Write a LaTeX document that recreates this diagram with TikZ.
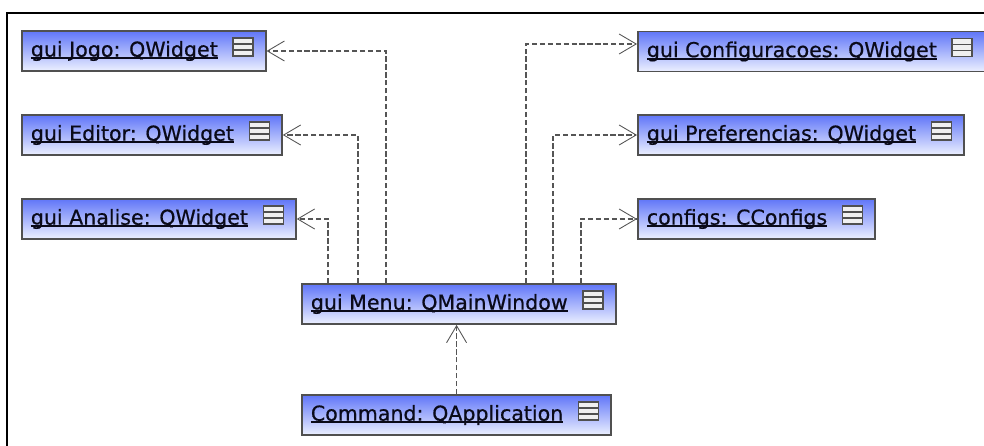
\documentclass[tikz,border=0pt]{standalone}
\usepackage{fontspec}
\newfontfamily\umlfont[FakeBold=0.6]{DejaVu Sans}
\usetikzlibrary{arrows.meta}

\definecolor{objtop}{RGB}{96,118,248}
\definecolor{objbot}{RGB}{236,240,255}
\definecolor{objline}{RGB}{80,80,80}
\definecolor{depline}{RGB}{85,85,85}
\definecolor{objtext}{RGB}{10,10,25}

% underline at a fixed depth, across the descenders
\newcommand{\ulab}[1]{\setbox0\hbox{#1}\rlap{\rule[-0.05cm]{\wd0}{0.035cm}}\box0}

\begin{document}
\begin{tikzpicture}[
	obj/.style={draw=objline, line width=1pt, top color=objtop, bottom color=objbot,
		minimum height=0.8cm, inner xsep=0.18cm, inner ysep=0pt, anchor=west,
		text=objtext, font=\umlfont\fontsize{11.7}{14}\selectfont},
	dep/.style={draw=depline, dash pattern=on 3pt off 1.5pt, line width=0.6pt,
		-{Straight Barb[length=0.34cm,width=0.4cm,line width=0.5pt]}},
	opicon/.pic={
		\draw[draw=objline, fill=gray!12, line width=0.9pt] (-0.2,-0.18) rectangle (0.2,0.18);
		\draw[objline, line width=0.9pt] (-0.2,-0.06) -- (0.2,-0.06) (-0.2,0.06) -- (0.2,0.06);
	}
]
	\useasboundingbox (0,0) rectangle (19.68,8.92);
	\draw [line width=0.04cm] (0.14,0) -- (0.14,8.66) -- (19.68,8.66);

	% left column
	\node [obj] (jogo) at (0.42,7.90) {\ulab{gui Jogo: QWidget}\hspace*{0.78cm}};
	\node [obj] (editor) at (0.42,6.22) {\ulab{gui Editor: QWidget}\hspace*{0.78cm}};
	\node [obj] (analise) at (0.42,4.54) {\ulab{gui Analise: QWidget}\hspace*{0.78cm}};
	% right column
	\node [obj] (config) at (12.74,7.89) {\ulab{gui Configuracoes: QWidget}\hspace*{0.78cm}};
	\node [obj] (pref) at (12.74,6.22) {\ulab{gui Preferencias: QWidget}\hspace*{0.78cm}};
	\node [obj] (configs) at (12.74,4.54) {\ulab{configs: CConfigs}\hspace*{0.78cm}};
	% middle
	\node [obj] (menu) at (6.02,2.84) {\ulab{gui Menu: QMainWindow}\hspace*{0.78cm}};
	\node [obj] (command) at (6.02,0.62) {\ulab{Command: QApplication}\hspace*{0.78cm}};

	\foreach \n in {jogo,editor,analise,config,pref,configs,menu,command}
		\pic at ([xshift=-0.47cm,yshift=0.08cm]\n.east) {opicon};

	\draw [dep] ([xshift=0.54cm]menu.north west) |- (analise.east);
	\draw [dep] ([xshift=1.14cm]menu.north west) |- (editor.east);
	\draw [dep] ([xshift=1.70cm]menu.north west) |- (jogo.east);
	\draw [dep] ([xshift=4.50cm]menu.north west) |- ([yshift=0.15cm]config.west);
	\draw [dep] ([xshift=5.04cm]menu.north west) |- (pref.west);
	\draw [dep] ([xshift=5.60cm]menu.north west) |- (configs.west);
	\draw [dep] (command.north) -- (command.north |- menu.south);
\end{tikzpicture}
\end{document}
